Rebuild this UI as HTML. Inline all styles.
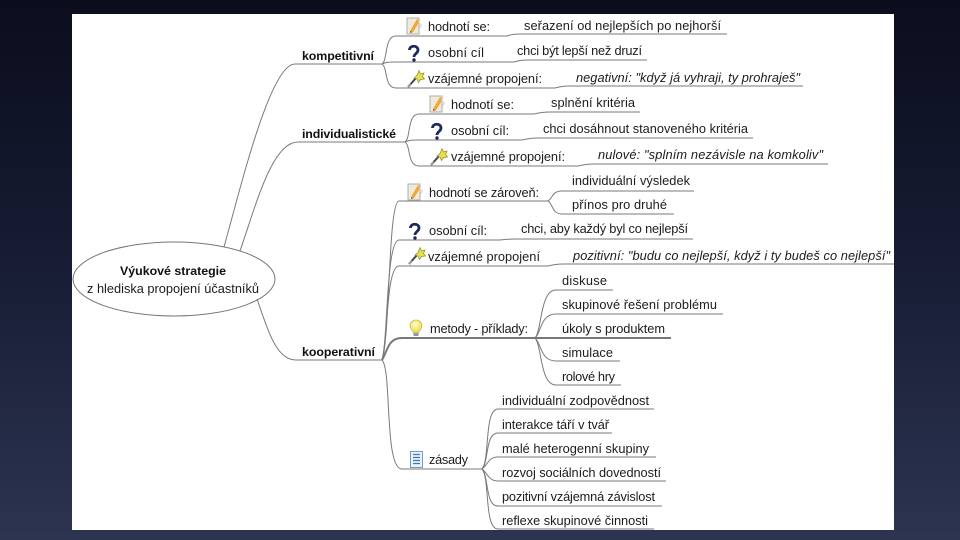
<!DOCTYPE html>
<html lang="cs"><head><meta charset="utf-8"><title>Výukové strategie</title>
<style>
html,body{margin:0;padding:0;width:960px;height:540px;overflow:hidden;background:#161a2e}
svg{display:block}
text{font-family:"Liberation Sans",sans-serif;font-size:12.8px;fill:#1c1c1c}
.b{font-weight:bold;fill:#111;font-size:12.4px}
.i{font-style:italic}
.l{fill:none;stroke:#7a7a7a;stroke-width:1}
.t{fill:none;stroke:#777;stroke-width:2}
</style></head><body>
<svg width="960" height="540" viewBox="0 0 960 540" xmlns="http://www.w3.org/2000/svg">
<defs>
<linearGradient id="bg" x1="0" y1="0" x2="0" y2="1"><stop offset="0" stop-color="#0a0d1c"/><stop offset=".5" stop-color="#181d35"/><stop offset="1" stop-color="#2c3450"/></linearGradient>
<radialGradient id="bulb" cx=".45" cy=".35" r=".6"><stop offset="0" stop-color="#ffffc8"/><stop offset="1" stop-color="#ecdc46"/></radialGradient>
<g id="note"><rect x="0" y="1" width="12" height="16" fill="#f2ead6" stroke="#aab0b8" stroke-width="1"/><path d="M3 14 L10 2 L13 4 L6 15 Z" fill="#eda93c"/><path d="M3 14 L6 15 L3 16 Z" fill="#a05a20"/><path d="M11 3 L15 8 L13 12 Z" fill="#d8dde6"/></g>
<g id="q"><path d="M2.500 6 C2.500 1 11 1 11 6 C11 9.500 7 9.500 7 13" fill="none" stroke="#1b2a5e" stroke-width="2.800"/><circle cx="7" cy="16" r="1.700" fill="#1b2a5e"/></g>
<g id="wand"><path d="M1 17 L9 8" stroke="#444" stroke-width="2"/><path d="M1 17 L4 14" stroke="#999" stroke-width="2"/><path d="M12 0.500 L13.500 4 L17 3 L15.500 6.500 L17.500 9 L13.500 9.500 L11.500 12.500 L10 9 L7 8 L10 5.500 Z" fill="#e8e04a" stroke="#8b8a2a" stroke-width=".7"/></g>
<g id="bulbi"><path d="M6 0 C10 0 12 3 12 6 C12 9 9 10 8.500 13 L3.500 13 C3 10 0 9 0 6 C0 3 2 0 6 0 Z" fill="url(#bulb)" stroke="#bdb45a" stroke-width=".7"/><rect x="3.500" y="13" width="5" height="3" fill="#8f97a0"/></g>
<g id="list"><rect x=".5" y=".5" width="12" height="16" fill="#eaf3fb" stroke="#6f9cc6"/><path d="M3 3.500H10M3 6.500H10M3 9.500H10M3 12.500H10" stroke="#3f79b0" stroke-width="1.200"/></g>
</defs>
<rect width="960" height="540" fill="url(#bg)"/>
<rect x="72" y="14" width="822" height="516" fill="#fff"/>

<ellipse cx="174" cy="279" rx="101" ry="37" fill="#fff" stroke="#777" stroke-width="1"/>

<g class="l">
<path d="M224 247 C240 190 270 64 295 64 H382"/>
<path d="M240 251 C256 205 272 142 298 142 H405"/>
<path d="M257 299 C268 330 276 360 296 360 H382"/>

<path d="M382 64 C388 60 384 36 396 36 H507 Q512 34 520 34 H727"/>
<path d="M382 64 C386 62 390 62 396 62 H514 Q520 60 528 60 H647"/>
<path d="M382 64 C388 68 384 88 396 88 H555 Q562 86 570 86 H803"/>

<path d="M405 142 C411 138 407 114 419 114 H534 Q542 112 550 112 H640"/>
<path d="M405 142 C409 140 413 140 419 140 H522 Q530 138 538 138 H753"/>
<path d="M405 142 C411 146 407 166 419 166 H578 Q586 164 594 164 H828"/>

<path d="M382 360 C390 340 388 201 399 201 H548"/>
<path d="M548 201 C553 198 552 191 562 191 H694"/>
<path d="M548 201 C553 204 552 214 562 214 H674"/>
<path d="M382 360 C388 340 386 240 399 240 H500 Q508 239 515 239 H693"/>
<path d="M382 360 C388 340 386 266 399 266 H548 Q556 264 563 264 H894"/>
<path d="M382 360 C392 370 384 469 402 469 H482"/>

<path d="M535 338 C542 330 540 290 556 290 H613"/>
<path d="M535 338 C541 334 540 314 556 314 H723"/>
<path d="M535 338 C541 342 540 361 556 361 H620"/>
<path d="M535 338 C542 346 540 385 556 385 H621"/>

<path d="M482 469 C490 460 484 409 498 409 H654"/>
<path d="M482 469 C489 462 485 433 498 433 H612"/>
<path d="M482 469 C487 466 488 457 498 457 H656"/>
<path d="M482 469 C487 472 488 481 498 481 H666"/>
<path d="M482 469 C489 476 485 506 498 506 H662"/>
<path d="M482 469 C490 478 484 529 498 529 H654"/>
</g>
<path class="t" d="M382 360 C388 350 388 338 402 338 H535 H671"/>

<use href="#note" x="407" y="17"/><use href="#q" x="407" y="44"/><use href="#wand" x="407" y="70"/>
<use href="#note" x="430" y="95"/><use href="#q" x="430" y="122"/><use href="#wand" x="430" y="148"/>
<use href="#note" x="408" y="183"/><use href="#q" x="408" y="222"/><use href="#wand" x="408" y="247"/>
<use href="#bulbi" x="410" y="320"/><use href="#list" x="410" y="451"/>

<text class="b" x="120" y="275" textLength="106" lengthAdjust="spacing">Výukové strategie</text>
<text x="87" y="293" textLength="172" lengthAdjust="spacing">z hlediska propojení účastníků</text>

<text class="b" x="302" y="60" textLength="72" lengthAdjust="spacing">kompetitivní</text>
<text class="b" x="302" y="138" textLength="94" lengthAdjust="spacing">individualistické</text>
<text class="b" x="302" y="356" textLength="73" lengthAdjust="spacing">kooperativní</text>

<text x="428" y="31" textLength="62" lengthAdjust="spacing">hodnotí se:</text>
<text x="428" y="57" textLength="56" lengthAdjust="spacing">osobní cíl</text>
<text x="428" y="83" textLength="114" lengthAdjust="spacing">vzájemné propojení:</text>
<text x="524" y="30" textLength="197" lengthAdjust="spacing">seřazení od nejlepších po nejhorší</text>
<text x="517" y="55" textLength="125" lengthAdjust="spacing">chci být lepší než druzí</text>
<text class="i" x="576" y="82" textLength="224" lengthAdjust="spacing">negativní: "když já vyhraji, ty prohraješ"</text>

<text x="451" y="109" textLength="63" lengthAdjust="spacing">hodnotí se:</text>
<text x="451" y="135" textLength="58" lengthAdjust="spacing">osobní cíl:</text>
<text x="451" y="161" textLength="114" lengthAdjust="spacing">vzájemné propojení:</text>
<text x="551" y="107" textLength="84" lengthAdjust="spacing">splnění kritéria</text>
<text x="543" y="133" textLength="205" lengthAdjust="spacing">chci dosáhnout stanoveného kritéria</text>
<text class="i" x="598" y="159" textLength="225" lengthAdjust="spacing">nulové: "splním nezávisle na komkoliv"</text>

<text x="429" y="197" textLength="110" lengthAdjust="spacing">hodnotí se zároveň:</text>
<text x="572" y="185" textLength="118" lengthAdjust="spacing">individuální výsledek</text>
<text x="572" y="209" textLength="95" lengthAdjust="spacing">přínos pro druhé</text>
<text x="429" y="235" textLength="58" lengthAdjust="spacing">osobní cíl:</text>
<text x="521" y="233" textLength="167" lengthAdjust="spacing">chci, aby každý byl co nejlepší</text>
<text x="428" y="261" textLength="112" lengthAdjust="spacing">vzájemné propojení</text>
<text class="i" x="573" y="260" textLength="317" lengthAdjust="spacing">pozitivní: "budu co nejlepší, když i ty budeš co nejlepší"</text>

<text x="430" y="333" textLength="98" lengthAdjust="spacing">metody - příklady:</text>
<text x="562" y="285" textLength="45" lengthAdjust="spacing">diskuse</text>
<text x="562" y="309" textLength="155" lengthAdjust="spacing">skupinové řešení problému</text>
<text x="562" y="333" textLength="103" lengthAdjust="spacing">úkoly s produktem</text>
<text x="562" y="357" textLength="51" lengthAdjust="spacing">simulace</text>
<text x="562" y="381" textLength="53" lengthAdjust="spacing">rolové hry</text>

<text x="429" y="464" textLength="39" lengthAdjust="spacing">zásady</text>
<text x="502" y="405" textLength="147" lengthAdjust="spacing">individuální zodpovědnost</text>
<text x="502" y="429" textLength="107" lengthAdjust="spacing">interakce táří v tvář</text>
<text x="502" y="453" textLength="147" lengthAdjust="spacing">malé heterogenní skupiny</text>
<text x="502" y="477" textLength="159" lengthAdjust="spacing">rozvoj sociálních dovedností</text>
<text x="502" y="501" textLength="153" lengthAdjust="spacing">pozitivní vzájemná závislost</text>
<text x="502" y="525" textLength="146" lengthAdjust="spacing">reflexe skupinové činnosti</text>
</svg>
</body></html>
